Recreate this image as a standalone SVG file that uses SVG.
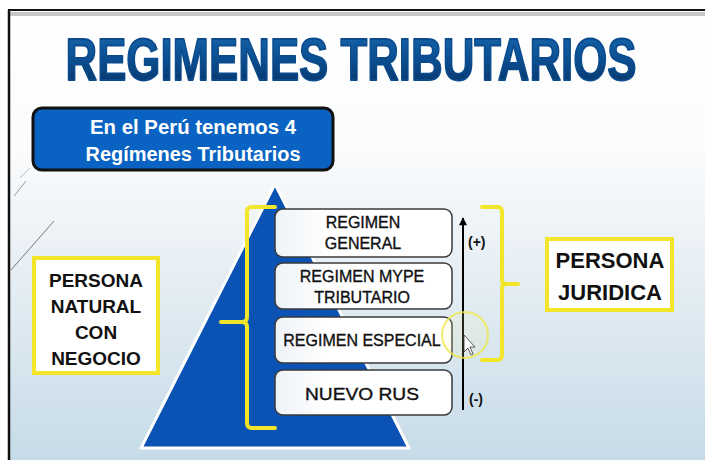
<svg xmlns="http://www.w3.org/2000/svg" width="705" height="460" viewBox="0 0 705 460">
  <defs>
    <linearGradient id="bg" x1="0" y1="0" x2="0" y2="1">
      <stop offset="0" stop-color="#ffffff"/>
      <stop offset="0.3" stop-color="#fbfcfd"/>
      <stop offset="0.55" stop-color="#e9f0f5"/>
      <stop offset="1" stop-color="#c6dbe8"/>
    </linearGradient>
    <linearGradient id="title" x1="0" y1="0" x2="0" y2="1">
      <stop offset="0" stop-color="#1a6ab0"/>
      <stop offset="0.5" stop-color="#0b4f92"/>
      <stop offset="1" stop-color="#072f60"/>
    </linearGradient>
    <linearGradient id="boxfill" x1="0" y1="0" x2="1" y2="0">
      <stop offset="0" stop-color="#eef3f8"/>
      <stop offset="0.3" stop-color="#ffffff"/>
      <stop offset="1" stop-color="#ffffff"/>
    </linearGradient>
    <marker id="arrowUp" viewBox="0 0 10 10" refX="9" refY="5" markerWidth="9" markerHeight="8" orient="auto" markerUnits="userSpaceOnUse">
      <path d="M0,0 L10,5 L0,10 Z" fill="#000"/>
    </marker>
    <style>
      .reg { fill: url(#boxfill); stroke: #3a3a3a; stroke-width: 1.5; }
      .regtxt { font-family: "Liberation Sans", Arial, sans-serif; font-size: 16px; fill: #111; stroke: #111; stroke-width: 0.35; text-anchor: middle; }
      .bracket { fill: none; stroke: #f3e62a; stroke-width: 4; stroke-linejoin: round; stroke-linecap: round; }
      .ybox { fill: #ffffff; stroke: #f3e62a; stroke-width: 4; }
      .btxt { font-family: "Liberation Sans", Arial, sans-serif; font-weight: bold; fill: #111; text-anchor: middle; }
      .wtxt { font-family: "Liberation Sans", Arial, sans-serif; font-weight: bold; font-size: 20px; fill: #ffffff; text-anchor: middle; }
      .sign { font-family: "Liberation Sans", Arial, sans-serif; font-weight: bold; font-size: 14px; fill: #111; }
    </style>
  </defs>

  <!-- background and frame -->
  <rect x="0" y="0" width="705" height="460" fill="#ffffff"/>
  <rect x="9" y="12" width="696" height="448" fill="url(#bg)"/>
  <rect x="9" y="12" width="696" height="4" fill="#c8c8c8"/>
  <line x1="8" y1="10" x2="705" y2="10" stroke="#111" stroke-width="2"/>
  <line x1="9" y1="10" x2="9" y2="460" stroke="#111" stroke-width="2.5"/>
  <line x1="11" y1="270" x2="54" y2="221" stroke="#777" stroke-width="1"/>
  <line x1="14" y1="196" x2="26" y2="181" stroke="#999" stroke-width="1"/>
  <line x1="20" y1="178" x2="30" y2="168" stroke="#bbb" stroke-width="1"/>

  <!-- title -->
  <g id="title" transform="translate(351,80) scale(0.73,1)">
    <text x="0" y="0" font-family="'Liberation Sans', Arial, sans-serif" font-weight="bold" font-size="60" fill="url(#title)" stroke="#0b4a8c" stroke-width="1.8" stroke-linejoin="round" text-anchor="middle">REGIMENES TRIBUTARIOS</text>
  </g>

  <!-- blue header box -->
  <g id="header">
    <rect x="33" y="108" width="300" height="62" rx="9" fill="#0a63c2" stroke="#111" stroke-width="3"/>
    <text class="wtxt" x="193" y="134" textLength="206" lengthAdjust="spacingAndGlyphs">En el Perú tenemos 4</text>
    <text class="wtxt" x="193" y="161" textLength="215" lengthAdjust="spacingAndGlyphs">Regímenes Tributarios</text>
  </g>

  <!-- pyramid -->
  <g id="pyramid">
    <polygon points="275,184 141,448 409,448" fill="#0a53b4" stroke="#ffffff" stroke-width="3" stroke-linejoin="round"/>
  </g>

  <!-- regimen boxes -->
  <g id="regimen-general">
    <rect class="reg" x="275" y="209" width="177" height="48" rx="8"/>
    <text class="regtxt" x="363" y="228">REGIMEN</text>
    <text class="regtxt" x="363" y="249">GENERAL</text>
  </g>
  <g id="regimen-mype">
    <rect class="reg" x="275" y="263" width="177" height="46" rx="8"/>
    <text class="regtxt" x="362" y="282">REGIMEN MYPE</text>
    <text class="regtxt" x="362" y="303">TRIBUTARIO</text>
  </g>
  <g id="regimen-especial">
    <rect class="reg" x="275" y="317" width="177" height="46" rx="8"/>
    <text class="regtxt" x="362" y="346">REGIMEN ESPECIAL</text>
  </g>
  <g id="nuevo-rus">
    <rect class="reg" x="275" y="370" width="177" height="45" rx="8"/>
    <text class="regtxt" x="362" y="400" font-size="20" textLength="114" lengthAdjust="spacingAndGlyphs">NUEVO RUS</text>
  </g>

  <!-- persona natural -->
  <g id="persona-natural">
    <rect class="ybox" x="34" y="258" width="124" height="115"/>
    <text class="btxt" x="96" y="287" font-size="19">PERSONA</text>
    <text class="btxt" x="96" y="313" font-size="19">NATURAL</text>
    <text class="btxt" x="96" y="339" font-size="19">CON</text>
    <text class="btxt" x="96" y="365" font-size="19">NEGOCIO</text>
  </g>

  <!-- persona juridica -->
  <g id="persona-juridica">
    <rect class="ybox" x="547" y="239" width="125" height="71"/>
    <text class="btxt" x="610" y="268" font-size="22">PERSONA</text>
    <text class="btxt" x="610" y="300" font-size="22">JURIDICA</text>
  </g>

  <!-- connectors: brackets and scale arrow -->
  <g id="connectors">
    <path class="bracket" d="M275,207 L252,207 Q247,207 247,212 L247,317 Q247,322 242,322 L221,322 M242,322 Q247,322 247,327 L247,423 Q247,428 252,428 L275,428"/>
    <path class="bracket" d="M482,207 L497,207 Q502,207 502,212 L502,280 Q502,284 506,284 L518,284 M506,284 Q502,284 502,288 L502,355 Q502,360 497,360 L482,360"/>
    <line x1="463" y1="410" x2="463" y2="218" stroke="#000" stroke-width="2" marker-end="url(#arrowUp)"/>
    <text class="sign" x="468" y="247">(+)</text>
    <text class="sign" x="469" y="404">(-)</text>
  </g>

  <!-- cursor highlight -->
  <g id="cursor">
    <circle cx="465" cy="335" r="23" fill="#f6f3a0" fill-opacity="0.15" stroke="#ece84a" stroke-opacity="0.8" stroke-width="2"/>
    <path d="M464,335 L464,352 L468,348 L471,355 L473,354 L470,347 L475,347 Z" fill="#ffffff" stroke="#333" stroke-width="0.8"/>
  </g>
</svg>
